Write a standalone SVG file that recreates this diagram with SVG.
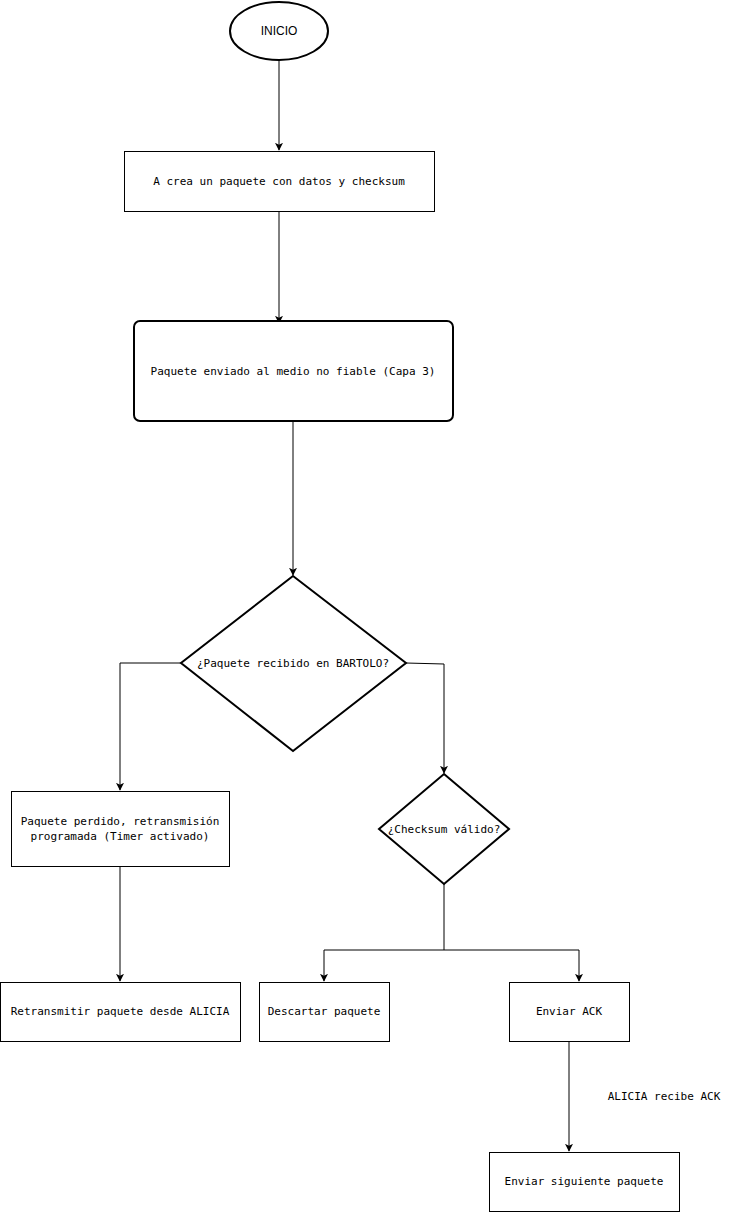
<svg xmlns="http://www.w3.org/2000/svg" width="730" height="1212" viewBox="0 0 730 1212">
<style>
.n{fill:#fff;stroke:#000;stroke-width:1}
.b{fill:#fff;stroke:#000;stroke-width:2}
.t{font-family:"DejaVu Sans Mono","Liberation Mono",monospace;font-size:11px;fill:#000;text-anchor:middle}
.c{fill:none;stroke:#000;stroke-width:1}
</style>
<defs>
<marker id="a" viewBox="0 0 10 10" refX="9" refY="5" markerWidth="8" markerHeight="8" markerUnits="userSpaceOnUse" orient="auto">
<path d="M0,0 L10,5 L0,10 L2.5,5 Z" fill="#000"/>
</marker>
</defs>
<g id="connectors">
<path class="c" d="M279,60 V150" marker-end="url(#a)"/>
<path class="c" d="M279,211 V323" marker-end="url(#a)"/>
<path class="c" d="M293,421 V575" marker-end="url(#a)"/>
<path class="c" d="M181,663 H120 V790" marker-end="url(#a)" stroke="#555"/>
<path class="c" d="M406,663 L444,664 V773" marker-end="url(#a)"/>
<path class="c" d="M120,866 V981" marker-end="url(#a)"/>
<path class="c" d="M444,884 V950 H324 V981" marker-end="url(#a)"/>
<path class="c" d="M444,950 H579 V981" marker-end="url(#a)"/>
<path class="c" d="M569,1041 V1151" marker-end="url(#a)"/>
<text class="t" x="664" y="1100">ALICIA recibe ACK</text>
</g>
<g id="inicio">
<ellipse class="b" cx="279" cy="31" rx="49" ry="29"/>
<text x="279" y="35" font-family="Liberation Sans,Arial,sans-serif" font-size="12" text-anchor="middle">INICIO</text>
</g>
<g id="crea">
<rect class="n" x="124.5" y="151.5" width="310" height="60"/>
<text class="t" x="279" y="185">A crea un paquete con datos y checksum</text>
</g>
<g id="enviado">
<rect class="b" x="134" y="321" width="319" height="100" rx="6"/>
<text class="t" x="293" y="375">Paquete enviado al medio no fiable (Capa 3)</text>
</g>
<g id="recibido">
<path class="b" d="M293,576 L406,663 L293,751 L181,663 Z"/>
<text class="t" x="293" y="667">¿Paquete recibido en BARTOLO?</text>
</g>
<g id="perdido">
<rect class="n" x="11.5" y="791.5" width="218" height="75"/>
<text class="t" x="120" y="825">Paquete perdido, retransmisión</text>
<text class="t" x="120" y="840">programada (Timer activado)</text>
</g>
<g id="checksum">
<path class="b" d="M444,774 L509,829 L444,884 L379,829 Z"/>
<text class="t" x="444" y="833">¿Checksum válido?</text>
</g>
<g id="retransmitir">
<rect class="n" x="0.5" y="982.5" width="240" height="59"/>
<text class="t" x="120" y="1015">Retransmitir paquete desde ALICIA</text>
</g>
<g id="descartar">
<rect class="n" x="259.5" y="982.5" width="130" height="59"/>
<text class="t" x="324" y="1015">Descartar paquete</text>
</g>
<g id="ack">
<rect class="n" x="509.5" y="982.5" width="120" height="59"/>
<text class="t" x="569" y="1015">Enviar ACK</text>
</g>
<g id="siguiente">
<rect class="n" x="489.5" y="1152.5" width="190" height="59"/>
<text class="t" x="584" y="1185">Enviar siguiente paquete</text>
</g>
</svg>
